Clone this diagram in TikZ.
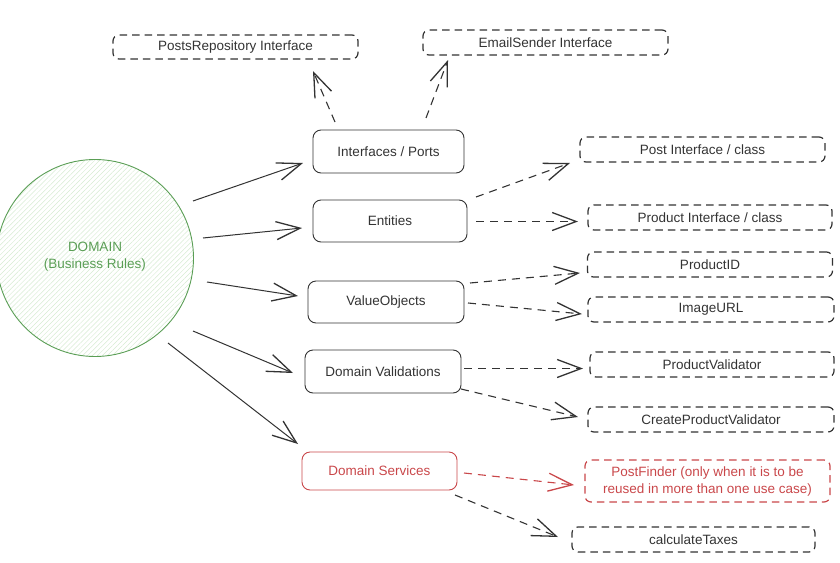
\documentclass[tikz,border=0pt]{standalone}
\usepackage{fontspec}
\setmainfont{Liberation Sans}
\usetikzlibrary{arrows.meta,patterns.meta}
\definecolor{ink}{HTML}{333333}
\definecolor{grn}{HTML}{5A9E55}
\definecolor{grnhatch}{HTML}{D6EBD2}
\definecolor{rd}{HTML}{C9474A}
\tikzset{
  solidbox/.style={draw=ink, line width=0.9pt, rounded corners=8pt, inner sep=0pt, text=ink, font=\fontsize{13.5}{16}\selectfont},
  dashbox/.style={draw=ink, line width=1.2pt, dash pattern=on 7.5pt off 5pt, rounded corners=6pt, inner sep=0pt, text=ink, font=\fontsize{13.5}{16}\selectfont},
  tipopen/.style={-{Straight Barb[length=24pt 0,width=18pt 0,line width=1.3pt]}},
  conn/.style={draw=ink, line width=1pt, tipopen},
  dconn/.style={draw=ink, line width=1.1pt, dash pattern=on 8pt off 6pt, tipopen},
}
\begin{document}
\begin{tikzpicture}[x=1pt,y=-1pt]
\useasboundingbox (0,0) rectangle (840,562);
% domain circle
\node[circle, draw=grn, line width=0.9pt, minimum size=197pt, inner sep=0pt,
  pattern={Lines[angle=45,distance=3.5pt,line width=0.5pt]}, pattern color=grnhatch] (dom) at (95,258) {};
\node[text=grn, align=center, font=\fontsize{13.5}{17}\selectfont] (domtxt) at (95,257) {DOMAIN\\(Business Rules)};
% solid boxes
\node[solidbox, minimum width=151pt, minimum height=43pt] (ip) at (388.5,151.5) {Interfaces / Ports};
\node[solidbox, minimum width=154pt, minimum height=42pt] (ent) at (390,221) {Entities};
\node[solidbox, minimum width=156pt, minimum height=42pt] (vo) at (386,302) {ValueObjects};
\node[solidbox, minimum width=156pt, minimum height=43pt] (dv) at (383,371.5) {Domain Validations};
\node[solidbox, draw=rd, text=rd, minimum width=155pt, minimum height=38pt] (ds) at (379.5,471) {Domain Services};
% dashed boxes
\node[dashbox, minimum width=245pt, minimum height=24pt] (pr) at (235.5,47) {PostsRepository Interface};
\node[dashbox, minimum width=245pt, minimum height=25pt] (es) at (545.5,42.5) {EmailSender Interface};
\node[dashbox, minimum width=245pt, minimum height=25pt] (pi) at (702.5,149.5) {Post Interface / class};
\node[dashbox, minimum width=244pt, minimum height=25pt] (prod) at (710,217.5) {Product Interface / class};
\node[dashbox, minimum width=245pt, minimum height=25pt] (pid) at (710,264.5) {ProductID};
\node[dashbox, minimum width=246pt, minimum height=25pt] (img) at (711,309.5) {ImageURL};
\node[dashbox, minimum width=244pt, minimum height=25pt] (pv) at (712,364.5) {ProductValidator};
\node[dashbox, minimum width=246pt, minimum height=25pt] (cpv) at (711,419.5) {CreateProductValidator};
\node[dashbox, draw=rd, text=rd, align=center, minimum width=245pt, minimum height=42pt,
  font=\fontsize{13.5}{17}\selectfont] (pf) at (707.5,481) {PostFinder (only when it is to be\\reused in more than one use case)};
\node[dashbox, minimum width=243pt, minimum height=25pt] (ct) at (693.5,539.5) {calculateTaxes};
% connector end points
\coordinate (a1s) at (193,201); \coordinate (a1e) at (303,163);
\coordinate (a2s) at (203,238); \coordinate (a2e) at (302,228);
\coordinate (a3s) at (207,282); \coordinate (a3e) at (298,296);
\coordinate (a4s) at (193,331); \coordinate (a4e) at (293,373);
\coordinate (a5s) at (168,343); \coordinate (a5e) at (298,444);
\coordinate (b1s) at (335,122); \coordinate (b1e) at (313,71);
\coordinate (b2s) at (426,118); \coordinate (b2e) at (448,60);
\coordinate (c1s) at (476,197); \coordinate (c1e) at (570,163);
\coordinate (c2s) at (476,221.5); \coordinate (c2e) at (578,221.5);
\coordinate (d1s) at (470,283); \coordinate (d1e) at (580,273);
\coordinate (d2s) at (468,303); \coordinate (d2e) at (582,314);
\coordinate (e1s) at (464,368.5); \coordinate (e1e) at (583,368.5);
\coordinate (e2s) at (461,389); \coordinate (e2e) at (578,417);
\coordinate (f1s) at (464,473); \coordinate (f1e) at (574,485);
\coordinate (f2s) at (455,495); \coordinate (f2e) at (558,537);
% solid connectors from domain
\draw[conn] (a1s) -- (a1e);
\draw[conn] (a2s) -- (a2e);
\draw[conn] (a3s) -- (a3e);
\draw[conn] (a4s) -- (a4e);
\draw[conn] (a5s) -- (a5e);
% dashed connectors
\draw[dconn] (b1s) -- (b1e);
\draw[dconn] (b2s) -- (b2e);
\draw[dconn] (c1s) -- (c1e);
\draw[dconn] (c2s) -- (c2e);
\draw[dconn] (d1s) -- (d1e);
\draw[dconn] (d2s) -- (d2e);
\draw[dconn] (e1s) -- (e1e);
\draw[dconn] (e2s) -- (e2e);
\draw[dconn, draw=rd] (f1s) -- (f1e);
\draw[dconn] (f2s) -- (f2e);
\end{tikzpicture}
\end{document}
